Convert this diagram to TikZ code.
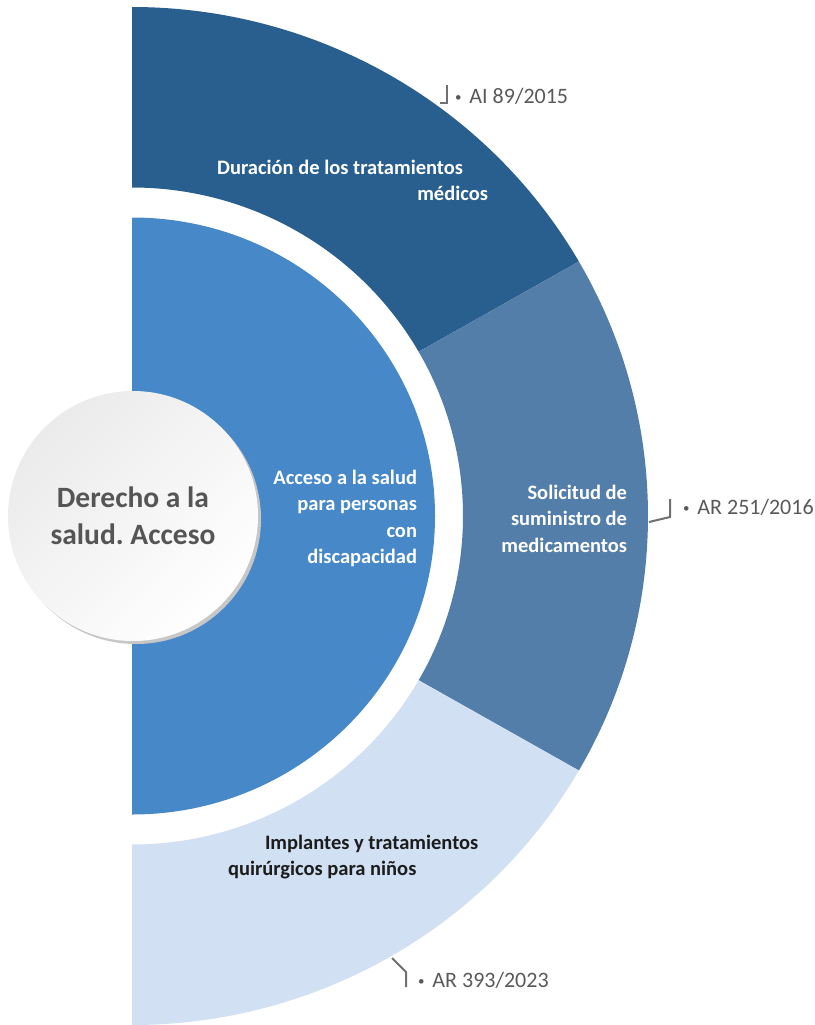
\documentclass[tikz,border=0pt]{standalone}
\usepackage{fontspec}
\setmainfont{Carlito}
\usetikzlibrary{positioning}
\definecolor{ringdark}{HTML}{295F8F}
\definecolor{ringmid}{HTML}{547EAA}
\definecolor{ringlight}{HTML}{D1E0F3}
\definecolor{diskblue}{HTML}{4788C9}
\definecolor{labelgray}{HTML}{595959}
\definecolor{bracketgray}{HTML}{707070}
\definecolor{titlegray}{HTML}{555555}
\definecolor{darktext}{HTML}{1C1C1C}
\newcommand{\refdot}{\raisebox{2pt}{\fontsize{13}{13}\selectfont\textbullet}\hspace{8pt}}
\frenchspacing

\begin{document}
\begin{tikzpicture}[x=1pt,y=1pt]
    \tikzstyle{every node}=[inner sep=0,outer sep=0]
    \tikzstyle{topic}=[text=white,font=\bfseries\fontsize{20.5}{26.5}\selectfont]
    \tikzstyle{ref}=[text=labelgray,font=\fontsize{22}{28}\selectfont,anchor=base west]
    \tikzstyle{bracket}=[draw=bracketgray,line width=2,line join=miter]
    \useasboundingbox (0,0) rectangle (814,-1025);
    {
        \begin{scope}[shift={(132,-516)}]
            \foreach \from/\to/\col in {90/30/ringdark,30/-30/ringmid,-30/-90/ringlight} {
                \fill[\col] ({516*cos(\from)},{509*sin(\from)})
                    arc[start angle=\from,end angle=\to,x radius=516,y radius=509]
                    -- ({331*cos(\to)},{328.5*sin(\to)})
                    arc[start angle=\to,end angle=\from,x radius=331,y radius=328.5]
                    -- cycle;
            }
            \fill[diskblue] (0,298.5) arc[start angle=90,end angle=-90,x radius=303,y radius=298.5] -- cycle;
        \end{scope}

        \fill[black!22] (136,-519) circle[radius=125];
        \node[circle,minimum size=250,shading=axis,top color=black!8,bottom color=white,shading angle=45,
              align=center,text=titlegray,font=\bfseries\fontsize{29.5}{37}\selectfont] (derecho) at (133,-516)
              {Derecho a la\\salud. Acceso};

        \node[topic,align=right,anchor=north east] (duracion) at (488,-160) {Duración de los tratamientos\hspace*{25pt}\\médicos};
        \node[topic,align=right,anchor=north east] (acceso) at (417,-470) {Acceso a la salud\\para personas\\con\\discapacidad};
        \node[topic,align=right,anchor=north east] (solicitud) at (627,-485) {Solicitud de\\suministro de\\medicamentos};
        \node[topic,text=darktext,align=left,anchor=north west] (implantes) at (228,-835) {\hspace*{37pt}Implantes y tratamientos\\quirúrgicos para niños};

        \node[ref] (ai) at (455,-103) {\refdot AI 89/2015};
        \node[ref] (ar1) at (683,-514) {\refdot AR 251/2016};
        \node[ref] (ar2) at (418,-987) {\refdot AR 393/2023};

        \coordinate (t1) at (440,-103);
        \coordinate (k1) at (447,-85);
        \coordinate (t2) at (649,-522);
        \coordinate (k2) at (670,-499);
        \coordinate (t3) at (392,-958);
        \coordinate (k3) at (406,-987);
        \draw[bracket] (t1) -- ++(7,0) -- (k1);
        \draw[bracket] (t2) -- ++(21,5) -- (k2);
        \draw[bracket] (t3) -- ++(14,-14) -- (k3);
    }
\end{tikzpicture}
\end{document}
